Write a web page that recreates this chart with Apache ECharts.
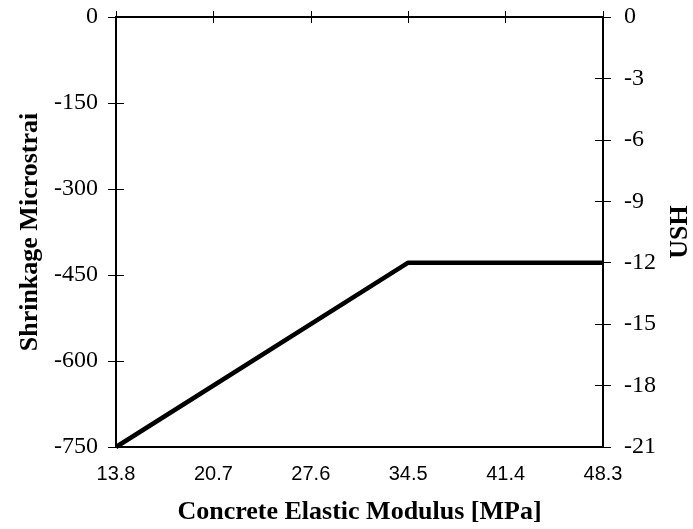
<!DOCTYPE html>
<html>
<head>
<meta charset="utf-8">
<script src="https://cdn.jsdelivr.net/npm/echarts@6/dist/echarts.min.js"></script>
<style>
  html, body { margin: 0; padding: 0; background: #fff; }
  #chart { width: 693px; height: 529px; }
</style>
</head>
<body>
<div id="chart"></div>
<script>
// Elastic modulus of concrete [MPa] at the break points of the curve
const modulus = [13.8, 34.5, 48.3];
// Ultimate shrinkage (USH) read on the right-hand scale
const ush = [-21, -12, -12];
// Axis ranges and tick steps
const xTicks = { min: 13.8, max: 48.3, step: 6.9 };
const leftTicks = { min: -750, max: 0, step: 150 };
const rightTicks = { min: -21, max: 0, step: 3 };

const serif = '"Liberation Serif", "Times New Roman", serif';
const sans = '"Liberation Sans", Arial, sans-serif';

const chart = echarts.init(document.getElementById('chart'), null, { renderer: 'canvas' });

const lineStyle = { color: '#000', width: 2 };
const plotRect = { left: 116, right: 90, top: 17, bottom: 82, outerBoundsMode: 'none', containLabel: false };

// Grid 0 carries the labelled axes with outward ticks; grid 1 sits on the
// same rectangle and only adds the inward half of each tick so they cross.
function xAxisDef(gridIndex, inside, showLabels) {
  return {
    type: 'value',
    gridIndex: gridIndex,
    min: xTicks.min, max: xTicks.max, interval: xTicks.step,
    position: 'bottom',
    name: showLabels ? 'Concrete Elastic Modulus [MPa]' : '',
    nameLocation: 'middle',
    nameGap: 52,
    nameTextStyle: { fontFamily: serif, fontWeight: 'bold', fontSize: 26, color: '#000' },
    axisLine: { show: showLabels, lineStyle: lineStyle },
    axisTick: { show: true, inside: inside, length: 6, lineStyle: { color: '#000', width: 1 } },
    axisLabel: {
      show: showLabels, margin: 17,
      fontFamily: sans, fontSize: 20, color: '#000',
      formatter: v => v.toFixed(1)
    },
    splitLine: { show: false }
  };
}

function yAxisDef(gridIndex, side, range, name, inside, showLabels, gap) {
  const axis = {
    type: 'value',
    gridIndex: gridIndex,
    position: side,
    min: range.min, max: range.max, interval: range.step,
    name: showLabels ? name : '',
    nameLocation: 'middle',
    nameRotate: 90,
    nameGap: gap,
    nameTextStyle: { fontFamily: serif, fontWeight: 'bold', fontSize: 26, color: '#000' },
    axisLine: { show: showLabels, onZero: false, lineStyle: lineStyle },
    axisTick: { show: true, inside: inside, length: 8, lineStyle: { color: '#000', width: 1 } },
    axisLabel: {
      show: showLabels, margin: side === 'left' ? 18 : 21,
      fontFamily: serif, fontSize: 24, color: '#000',
      formatter: v => String(Math.round(v))
    },
    splitLine: { show: false }
  };
  if (side === 'left' && showLabels) {
    axis.nameTruncate = { maxWidth: 250, ellipsis: '' };
  }
  return axis;
}

chart.setOption({
  animation: false,
  backgroundColor: '#fff',
  grid: [
    Object.assign({ show: true, borderColor: '#000', borderWidth: 2, backgroundColor: 'transparent' }, plotRect),
    Object.assign({ show: false }, plotRect)
  ],
  xAxis: [xAxisDef(0, false, true), xAxisDef(1, true, false)],
  yAxis: [
    yAxisDef(0, 'left', leftTicks, 'Shrinkage Microstrain', false, true, 72),
    yAxisDef(0, 'right', rightTicks, 'USH', false, true, 64),
    yAxisDef(1, 'left', leftTicks, '', true, false, 0),
    yAxisDef(1, 'right', rightTicks, '', true, false, 0)
  ],
  series: [{
    type: 'line',
    xAxisIndex: 0,
    yAxisIndex: 1,
    data: modulus.map((m, i) => [m, ush[i]]),
    showSymbol: false,
    lineStyle: { color: '#000', width: 4.5 },
    clip: false
  }]
});
</script>
</body>
</html>
